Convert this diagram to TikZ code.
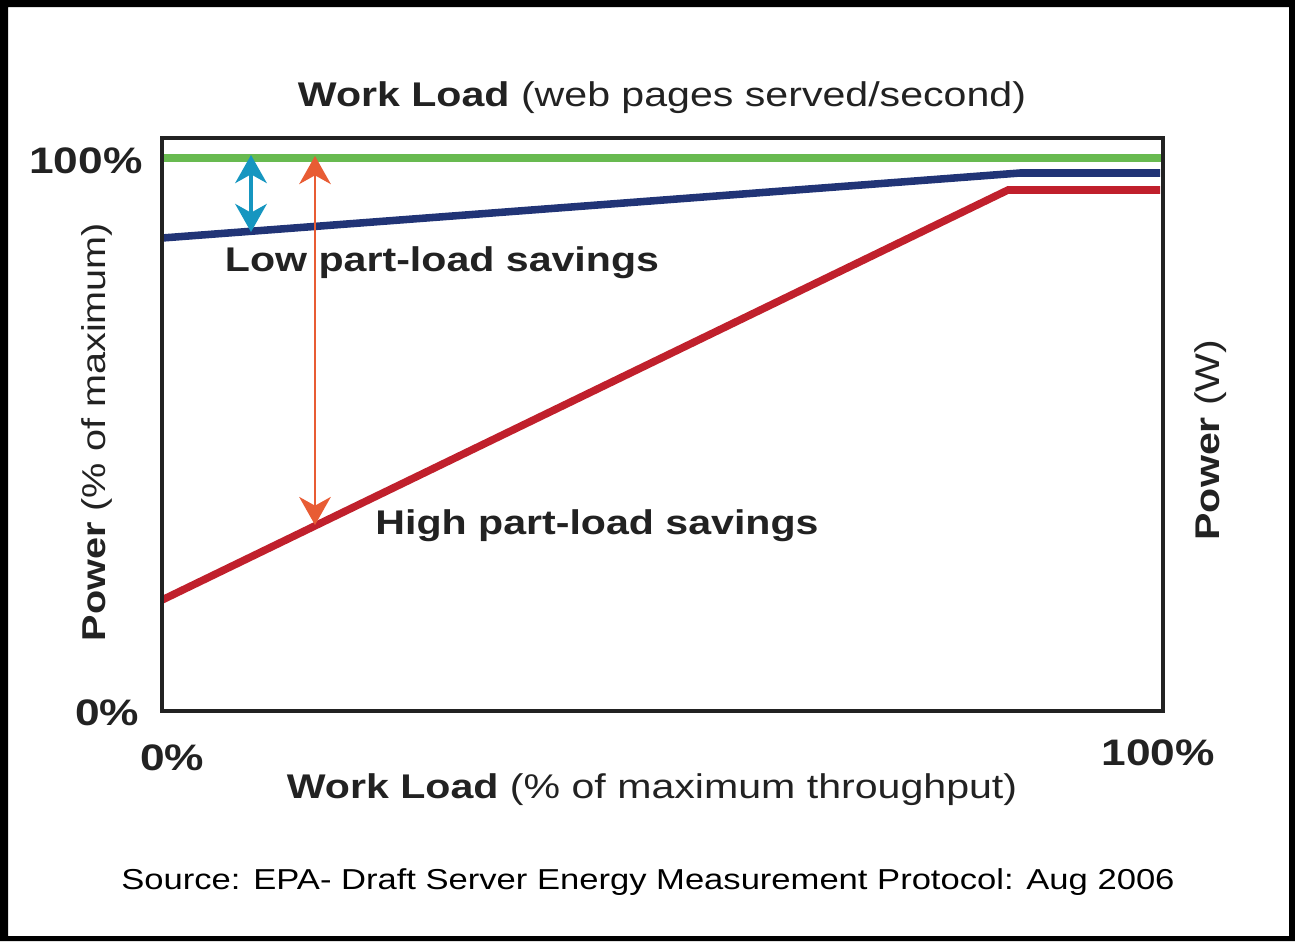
\documentclass[tikz,border=0pt]{standalone}
\usepackage{fontspec}
\setmainfont{Liberation Sans}[FakeStretch=1.2]
\usetikzlibrary{arrows.meta}
\definecolor{txtgray}{RGB}{34,34,34}
\definecolor{loadgreen}{RGB}{104,186,80}
\definecolor{loadblue}{RGB}{33,52,118}
\definecolor{loadred}{RGB}{192,32,44}
\definecolor{lowcyan}{RGB}{22,150,192}
\definecolor{highorange}{RGB}{232,92,52}
\tikzset{
  lbl/.style={text=txtgray, inner sep=0pt, font=\fontsize{19.5}{23}\selectfont},
  pct/.style={text=txtgray, inner sep=0pt, font=\fontsize{21}{25}\selectfont\bfseries},
  curve/.style={line width=4.3pt, line join=miter},
  savetip/.style={{Stealth[length=16pt,width=18pt,inset=5pt]}-{Stealth[length=16pt,width=18pt,inset=5pt]}}
}
\begin{document}
\begin{tikzpicture}[x=0.02cm, y=-0.02cm]
\useasboundingbox (0,0) rectangle (1295,941);
% outer frame
\fill[black, even odd rule] (0,0) rectangle (1295,941) (8,7) rectangle (1289,936);
% power curves
\draw[loadgreen, line width=5pt] (162,158) -- (1163,158);
\draw[loadblue, curve] (162,238) -- (1020,173) -- (1160,173);
\draw[loadred, curve] (162,600) -- (1008,190) -- (1160,190);
% plot frame
\draw[txtgray, line width=1.8pt] (162,138) rectangle (1163,711);
% savings arrows
\coordinate (lowtop) at (251,155);
\coordinate (lowbot) at (251,232);
\coordinate (hightop) at (315,156);
\coordinate (highbot) at (315,525);
\draw[lowcyan, line width=1.8pt, savetip] (lowtop) -- (lowbot);
\draw[highorange, line width=1.3pt, savetip] (hightop) -- (highbot);
\node[lbl, font=\fontsize{19.5}{23}\selectfont\bfseries] (lowlbl) at (442,263) {Low part-load savings};
\node[lbl, font=\fontsize{19.5}{23}\selectfont\bfseries] (highlbl) at (597,526) {High part-load savings};
% axis labels
\node[lbl] (toptitle) at (662,98) {\textbf{Work Load} (web pages served/second)};
\node[lbl] (bottitle) at (652,790) {\textbf{Work Load} (\% of maximum throughput)};
\node[lbl, font=\fontsize{18.8}{22}\selectfont, rotate=90] (lefttitle) at (97,432) {\textbf{Power} (\% of maximum)};
\node[lbl, rotate=90] (righttitle) at (1211,440) {\textbf{Power} (W)};
\node[pct] (ymax) at (86,161) {100\%};
\node[pct] (ymin) at (107,713) {0\%};
\node[pct] (xmin) at (172,758) {0\%};
\node[pct] (xmax) at (1158,753) {100\%};
% source
\node[lbl, font=\fontsize{16.4}{20}\selectfont, text=black] (source) at (648,882) {Source: EPA- Draft Server Energy Measurement Protocol: Aug 2006};
\end{tikzpicture}
\end{document}
